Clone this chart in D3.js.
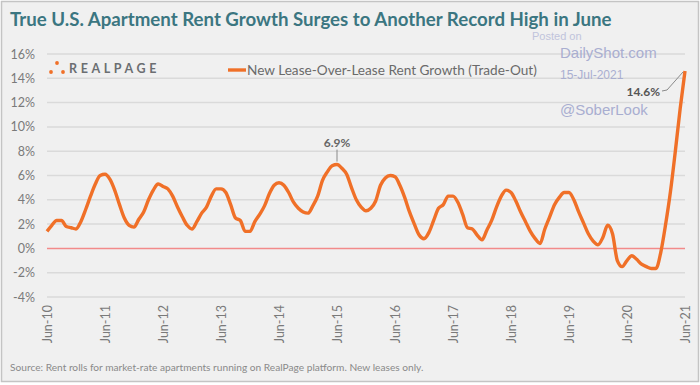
<!DOCTYPE html>
<html>
<head>
<meta charset="utf-8">
<script src="https://cdn.jsdelivr.net/npm/d3@7"></script>
<style>
  body { margin: 0; background: #fff; }
  svg { display: block; }
</style>
</head>
<body>
<div id="chart"></div>
<script>
'use strict'

// monthly trade-out, Jun-10 .. Jun-21
var rentGrowth = [
  1.4, 1.9, 2.3, 2.3, 1.8, 1.7, 1.6,
  2.2, 3.2, 4.3, 5.3, 6.0, 6.1, 5.7, 4.8, 3.6, 2.5, 1.9, 1.75,
  2.4, 3.0, 4.0, 4.8, 5.3, 5.1, 4.9, 4.3, 3.4, 2.6, 1.9, 1.6,
  2.2, 2.9, 3.4, 4.3, 4.9, 4.9, 4.6, 3.6, 2.5, 2.3, 1.4, 1.4,
  2.2, 2.8, 3.5, 4.5, 5.2, 5.4, 5.2, 4.6, 3.8, 3.3, 3.0, 2.9,
  3.5, 4.3, 5.6, 6.3, 6.8, 6.9, 6.6, 6.1, 5.0, 4.0, 3.4, 3.1,
  3.3, 3.9, 5.2, 5.8, 6.0, 5.9, 5.2, 4.2, 3.0, 2.0, 1.1, 0.8,
  1.3, 2.3, 3.3, 3.6, 4.3, 4.3, 3.8, 2.8, 1.7, 1.6, 1.1, 0.7,
  1.5, 2.3, 3.4, 4.3, 4.8, 4.6, 3.9, 3.0, 2.2, 1.4, 0.8, 0.4,
  1.6, 2.6, 3.6, 4.2, 4.6, 4.6, 4.0, 3.0, 2.1, 1.2, 0.6, 0.3,
  0.9, 1.9, 1.2, -1.0, -1.5, -1.0, -0.6, -0.9, -1.3, -1.5, -1.65, -1.65,
  -0.3, 2.0, 4.7, 8.0, 11.5, 14.6
]
var xTickLabels = ['Jun-10','Jun-11','Jun-12','Jun-13','Jun-14','Jun-15','Jun-16','Jun-17','Jun-18','Jun-19','Jun-20','Jun-21']
var yTicks = [-4, -2, 0, 2, 4, 6, 8, 10, 12, 14, 16]
var seriesName = 'New Lease-Over-Lease Rent Growth (Trade-Out)'
var peakCallout = { index: 60, label: '6.9%' }
var lastCallout = { index: 132, label: '14.6%' }

var width = 700, height = 385
var orange = '#f07028'

var svg = d3.select('#chart').append('svg')
  .attr('width', width)
  .attr('height', height)
  .style('font-family', 'Lato, sans-serif')

svg.append('rect')
  .attr('x', 1.5).attr('y', 1.5)
  .attr('width', width - 3).attr('height', height - 5)
  .attr('fill', '#f0f0f0')
  .attr('stroke', '#c4c4c4')
  .attr('stroke-width', 1.5)

var x = d3.scaleLinear().domain([0, rentGrowth.length - 1]).range([47, 685])
var y = d3.scaleLinear().domain([-4, 16]).range([297, 54])

// shrink a text node so it spans a given width
function fitWidth(sel, size, target){
  var w = sel.node().getComputedTextLength()
  sel.style('font-size', (size * target / w).toFixed(2) + 'px')
}

// gridlines
svg.append('g').selectAll('line')
  .data(yTicks).enter()
  .append('line')
  .attr('x1', x(0)).attr('x2', x(rentGrowth.length - 1))
  .attr('y1', function(d){ return y(d) })
  .attr('y2', function(d){ return y(d) })
  .attr('stroke', function(d){ return d === 0 ? '#f28a8a' : '#dadada' })
  .attr('stroke-width', 1.5)

// y axis labels
var yAxis = d3.axisLeft(y).tickValues(yTicks).tickSize(0).tickPadding(0)
  .tickFormat(function(d){ return d + '%' })
var gy = svg.append('g').attr('transform', 'translate(35,0)').call(yAxis)
gy.select('.domain').remove()
gy.selectAll('text')
  .style('font-family', 'Lato, sans-serif')
  .style('font-size', '12.5px')
  .attr('fill', '#7a7a7a')

// x axis labels
var xAxis = d3.axisBottom(x)
  .tickValues(xTickLabels.map(function(d, i){ return i * 12 }))
  .tickSize(0)
  .tickFormat(function(d){ return xTickLabels[d / 12] })
var gx = svg.append('g').attr('transform', 'translate(0,305)').call(xAxis)
gx.select('.domain').remove()
gx.selectAll('text')
  .style('font-family', 'Lato, sans-serif')
  .style('font-size', '12.5px')
  .attr('fill', '#7a7a7a')
  .attr('text-anchor', 'end')
  .attr('dy', '0.35em')
  .attr('x', 0).attr('y', 0)
  .attr('transform', 'rotate(-90)')

// series
var line = d3.line()
  .x(function(d, i){ return x(i) })
  .y(function(d){ return y(d) })
  .curve(d3.curveMonotoneX)

svg.append('path')
  .datum(rentGrowth)
  .attr('d', line)
  .attr('fill', 'none')
  .attr('stroke', orange)
  .attr('stroke-width', 3.4)
  .attr('stroke-linejoin', 'round')

// callouts
var px = x(peakCallout.index), py = y(rentGrowth[peakCallout.index])
svg.append('line')
  .attr('x1', px).attr('x2', px)
  .attr('y1', py - 15).attr('y2', py - 3)
  .attr('stroke', '#8a8a8a').attr('stroke-width', 1)
svg.append('text')
  .attr('x', px).attr('y', py - 18)
  .attr('text-anchor', 'middle')
  .style('font-size', '12px').style('font-weight', 'bold')
  .attr('fill', '#666')
  .text(peakCallout.label)

var lx = x(lastCallout.index), ly = y(rentGrowth[lastCallout.index])
svg.append('path')
  .attr('d', 'M' + (lx - 2) + ',' + (ly + 1) + 'L' + (lx - 18) + ',' + (ly + 19) + 'L' + (lx - 23) + ',' + (ly + 20))
  .attr('fill', 'none')
  .attr('stroke', '#8a8a8a').attr('stroke-width', 1)
svg.append('text')
  .attr('x', lx - 25).attr('y', ly + 25)
  .attr('text-anchor', 'end')
  .style('font-size', '12px').style('font-weight', 'bold')
  .attr('fill', '#555')
  .text(lastCallout.label)

// legend
svg.append('line')
  .attr('x1', 228).attr('x2', 246)
  .attr('y1', 70).attr('y2', 70)
  .attr('stroke', orange).attr('stroke-width', 3.4)
var legendText = svg.append('text')
  .attr('x', 247).attr('y', 74.5)
  .style('font-size', '12.3px')
  .attr('fill', '#6a6a6a')
  .text(seriesName)
fitWidth(legendText, 12.3, 290)

// realpage logo
var logo = svg.append('g')
logo.selectAll('circle')
  .data([[51, 72], [57, 63], [63, 72]]).enter()
  .append('circle')
  .attr('cx', function(d){ return d[0] })
  .attr('cy', function(d){ return d[1] })
  .attr('r', 1.9)
  .attr('fill', orange)
logo.append('text')
  .attr('x', 69).attr('y', 73)
  .style('font-size', '12.5px').style('font-weight', 'bold')
  .style('letter-spacing', '3.6px')
  .attr('fill', '#6b6e72')
  .text('REALPAGE')

// title
var title = svg.append('text')
  .attr('x', 10).attr('y', 26)
  .style('font-size', '18px').style('font-weight', 'bold')
  .attr('fill', '#3b7681')
  .text('True U.S. Apartment Rent Growth Surges to Another Record High in June')
fitWidth(title, 18, 602)

// watermark
var wm = svg.append('g')
  .style('font-family', 'Liberation Sans, Arial, sans-serif')
  .attr('fill', '#a9aed0')
wm.append('text').attr('x', 532).attr('y', 40).style('font-size', '11px').attr('fill', '#c0c4dc').text('Posted on')
wm.append('text').attr('x', 560).attr('y', 58).style('font-size', '15px').text('DailyShot.com')
wm.append('text').attr('x', 560).attr('y', 79).style('font-size', '12px').text('15-Jul-2021')
wm.append('text').attr('x', 560).attr('y', 115).style('font-size', '15px').text('@SoberLook')

// source
var src = svg.append('text')
  .attr('x', 10).attr('y', 371)
  .style('font-size', '9.5px')
  .attr('fill', '#8a8a8a')
  .text('Source: Rent rolls for market-rate apartments running on RealPage platform. New leases only.')
fitWidth(src, 9.5, 414)
</script>
</body>
</html>
